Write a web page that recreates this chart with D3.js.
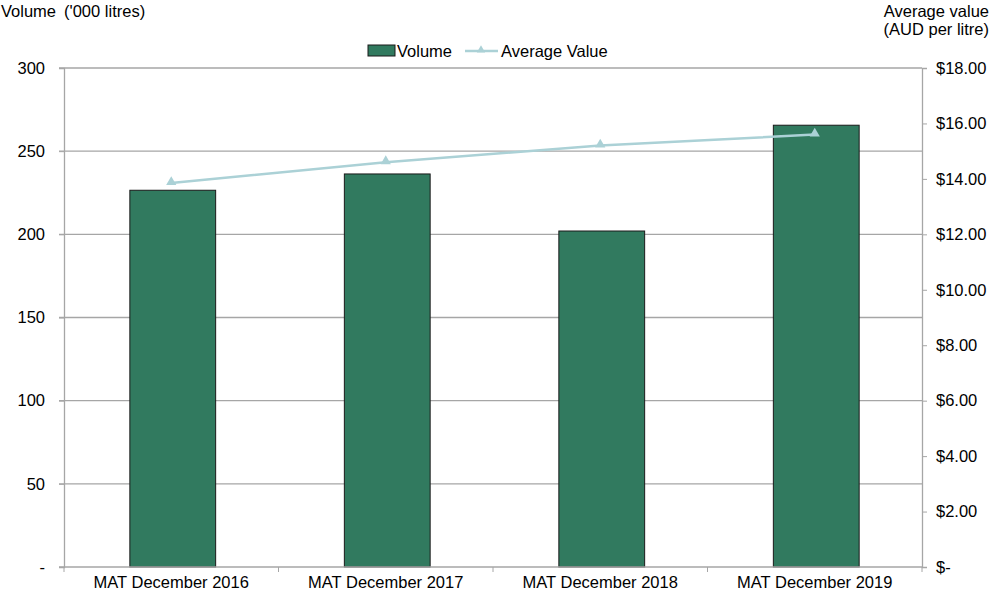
<!DOCTYPE html>
<html>
<head>
<meta charset="utf-8">
<script src="https://cdn.jsdelivr.net/npm/d3@7"></script>
<style>
  body { margin: 0; background: #fff; }
  text { font-family: "Liberation Sans", Arial, sans-serif; fill: #000; }
</style>
</head>
<body>
<div id="chart"></div>
<script>
// data
const periods = ["MAT December 2016", "MAT December 2017", "MAT December 2018", "MAT December 2019"];
const volume = [226.5, 236.3, 202, 265.6];
const avgValue = [13.85, 14.6, 15.2, 15.6];
const leftTicks = [0, 50, 100, 150, 200, 250, 300];
const rightTicks = [0, 2, 4, 6, 8, 10, 12, 14, 16, 18];

const width = 995, height = 592;
const margin = {top: 68, left: 64, right: 73, bottom: 25};
const fs = "16.5px";

const svg = d3.select("#chart").append("svg")
    .attr("width", width)
    .attr("height", height);

const x = d3.scaleBand()
    .domain(periods)
    .range([margin.left, width - margin.right])
    .paddingInner(0.6)
    .paddingOuter(0.3);

const yL = d3.scaleLinear().domain([0, 300]).range([height - margin.bottom, margin.top]);
const yR = d3.scaleLinear().domain([0, 18]).range([height - margin.bottom, margin.top]);

// gridlines
svg.append("g")
    .selectAll("line")
    .data(leftTicks.slice(1))
    .enter().append("line")
    .attr("x1", margin.left - 5)
    .attr("x2", width - margin.right)
    .attr("y1", d => yL(d))
    .attr("y2", d => yL(d))
    .attr("stroke", "#a6a6a6")
    .attr("stroke-width", 1.3);

// bars
svg.append("g")
    .selectAll("rect")
    .data(volume)
    .enter().append("rect")
    .attr("x", (d, i) => x(periods[i]) + 1.5)
    .attr("y", d => yL(d))
    .attr("width", x.bandwidth())
    .attr("height", d => yL(0) - yL(d))
    .attr("fill", "#317a5f")
    .attr("stroke", "#1a1a1a")
    .attr("stroke-width", 1);

// axes
const leftAxis = svg.append("g")
    .attr("transform", `translate(${margin.left},0)`)
    .call(d3.axisLeft(yL).tickValues(leftTicks).tickSize(5).tickPadding(14)
        .tickFormat(d => d === 0 ? "-" : d));

const rightAxis = svg.append("g")
    .attr("transform", `translate(${width - margin.right},0)`)
    .call(d3.axisRight(yR).tickValues(rightTicks).tickSize(5).tickPadding(9)
        .tickFormat(d => d === 0 ? "$-" : "$" + d3.format(".2f")(d)));

// x axis with ticks at band boundaries
const bottom = svg.append("g")
    .attr("transform", `translate(0,${height - margin.bottom})`);
bottom.append("line")
    .attr("x1", margin.left - 5).attr("x2", width - margin.right)
    .attr("stroke", "#a6a6a6").attr("stroke-width", 1.3);
const bounds = d3.range(periods.length + 1).map(i => margin.left + i * (width - margin.left - margin.right) / periods.length);
bottom.selectAll(".xtick")
    .data(bounds)
    .enter().append("line")
    .attr("x1", d => d).attr("x2", d => d)
    .attr("y1", 0).attr("y2", 5)
    .attr("stroke", "#a6a6a6");
bottom.selectAll(".xlabel")
    .data(periods)
    .enter().append("text")
    .attr("x", d => x(d) + x.bandwidth() / 2)
    .attr("y", 21)
    .attr("text-anchor", "middle")
    .style("font-size", fs)
    .text(d => d);

[leftAxis, rightAxis].forEach(a => {
    a.select(".domain").attr("stroke", "#a6a6a6").attr("stroke-width", 1.3);
    a.selectAll(".tick line").attr("stroke", "#a6a6a6");
    a.selectAll(".tick text").style("font-size", fs)
        .style("font-family", "'Liberation Sans', Arial, sans-serif").attr("fill", "#000");
});
rightAxis.selectAll(".tick").filter(d => d === 0).select("line").attr("x2", 0);

// average value line
const line = d3.line()
    .x((d, i) => x(periods[i]) + x.bandwidth() / 2)
    .y(d => yR(d));

svg.append("path")
    .datum(avgValue)
    .attr("d", line)
    .attr("fill", "none")
    .attr("stroke", "#abd1d6")
    .attr("stroke-width", 2.5);

svg.append("g")
    .selectAll("path")
    .data(avgValue)
    .enter().append("path")
    .attr("d", d3.symbol().type(d3.symbolTriangle).size(45))
    .attr("transform", (d, i) => `translate(${x(periods[i]) + x.bandwidth() / 2},${yR(d) - 1})`)
    .attr("fill", "#abd1d6");

// axis titles
const leftTitle = svg.append("text")
    .attr("x", 1).attr("y", 17)
    .style("font-size", fs);
leftTitle.append("tspan").text("Volume");
leftTitle.append("tspan").attr("dx", 8).text("('000 litres)");

svg.append("text")
    .attr("x", 989).attr("y", 17)
    .attr("text-anchor", "end")
    .style("font-size", fs)
    .text("Average value");
svg.append("text")
    .attr("x", 989).attr("y", 35)
    .attr("text-anchor", "end")
    .style("font-size", fs)
    .text("(AUD per litre)");

// legend
const legend = svg.append("g");
legend.append("rect")
    .attr("x", 368).attr("y", 45)
    .attr("width", 27).attr("height", 11)
    .attr("fill", "#317a5f").attr("stroke", "#1a1a1a");
legend.append("text")
    .attr("x", 397).attr("y", 57)
    .style("font-size", fs)
    .text("Volume");
legend.append("line")
    .attr("x1", 465).attr("x2", 498)
    .attr("y1", 51).attr("y2", 51)
    .attr("stroke", "#abd1d6").attr("stroke-width", 2.5);
legend.append("path")
    .attr("d", d3.symbol().type(d3.symbolTriangle).size(30))
    .attr("transform", "translate(481,50)")
    .attr("fill", "#abd1d6");
legend.append("text")
    .attr("x", 501).attr("y", 57)
    .style("font-size", fs)
    .text("Average Value");
</script>
</body>
</html>
